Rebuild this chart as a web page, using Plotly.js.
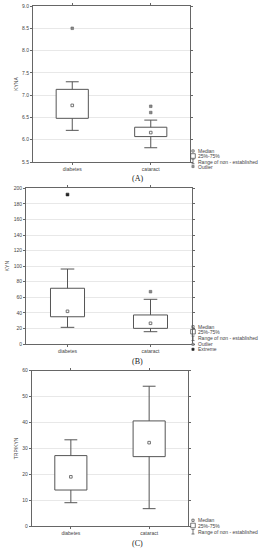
<!DOCTYPE html>
<html>
<head>
<meta charset="utf-8">
<script src="https://cdn.plot.ly/plotly-3.0.1.min.js"></script>
<style>
html,body{margin:0;padding:0;background:#fff;}
#chart{width:274px;height:550px;}
</style>
</head>
<body>
<div id="chart"></div>
<script>
// ---- data ----
const categories = ["diabetes", "cataract"];

// Panel A: KYNA
const kynaMin = [6.21, 5.82];
const kynaQ1 = [6.48, 6.07];
const kynaMedian = [6.77, 6.16];
const kynaQ3 = [7.13, 6.28];
const kynaMax = [7.30, 6.44];
const kynaOutlierCat = ["diabetes", "cataract", "cataract"];
const kynaOutlierVal = [8.5, 6.75, 6.61];

// Panel B: KYN
const kynMin = [21.4, 15.8];
const kynQ1 = [35.0, 20.1];
const kynMedian = [42.0, 26.6];
const kynQ3 = [71.6, 37.3];
const kynMax = [96.3, 57.4];
const kynOutlierCat = ["cataract"];
const kynOutlierVal = [67.2];
const kynExtremeCat = ["diabetes"];
const kynExtremeVal = [192];

// Panel C: TRP/KYN
const ratioMin = [9.0, 6.7];
const ratioQ1 = [13.9, 26.8];
const ratioMedian = [19.0, 32.2];
const ratioQ3 = [27.2, 40.6];
const ratioMax = [33.3, 54.0];

const yTicksA = [5.5, 6.0, 6.5, 7.0, 7.5, 8.0, 8.5, 9.0];
const yTicksB = [0, 20, 40, 60, 80, 100, 120, 140, 160, 180, 200];
const yTicksC = [0, 10, 20, 30, 40, 50, 60];

// ---- styling helpers ----
const LC = "#555";
const FONT = "Liberation Sans, Arial, sans-serif";
const W = 274, H = 550;
const px = x => x / W;
const py = y => 1 - y / H;

function boxTrace(xa, ya, mn, q1, med, q3, mx) {
  return {
    type: "box", xaxis: xa, yaxis: ya, x: categories,
    q1: q1, median: med, q3: q3, lowerfence: mn, upperfence: mx,
    boxpoints: false, width: 0.41, whiskerwidth: 0.4,
    line: {color: LC, width: 1}, fillcolor: "#fff", hoverinfo: "skip", showlegend: false
  };
}
function medTrace(xa, ya, med) {
  return {type: "scatter", mode: "markers", xaxis: xa, yaxis: ya, x: categories, y: med,
    marker: {symbol: "square-open", size: 2.6, color: "#666", line: {width: 0.9, color: "#666"}}, showlegend: false, hoverinfo: "skip"};
}
function outTrace(xa, ya, cats, vals) {
  return {type: "scatter", mode: "markers", xaxis: xa, yaxis: ya, x: cats, y: vals,
    marker: {symbol: "square", size: 2.6, color: "#888", line: {width: 0.6, color: "#666"}}, showlegend: false, hoverinfo: "skip"};
}
function extTrace(xa, ya, cats, vals) {
  return {type: "scatter", mode: "markers", xaxis: xa, yaxis: ya, x: cats, y: vals,
    marker: {symbol: "square", size: 2.8, color: "#222", line: {width: 0.6, color: "#222"}}, showlegend: false, hoverinfo: "skip"};
}

const data = [
  boxTrace("x", "y", kynaMin, kynaQ1, kynaMedian, kynaQ3, kynaMax),
  medTrace("x", "y", kynaMedian),
  outTrace("x", "y", kynaOutlierCat, kynaOutlierVal),
  boxTrace("x2", "y2", kynMin, kynQ1, kynMedian, kynQ3, kynMax),
  medTrace("x2", "y2", kynMedian),
  outTrace("x2", "y2", kynOutlierCat, kynOutlierVal),
  extTrace("x2", "y2", kynExtremeCat, kynExtremeVal),
  boxTrace("x3", "y3", ratioMin, ratioQ1, ratioMedian, ratioQ3, ratioMax),
  medTrace("x3", "y3", ratioMedian),
];

const tickFont = {family: FONT, size: 5, color: "#444"};
function xax(dom, anchor) {
  return {domain: dom, anchor: anchor, type: "category", categoryarray: categories, range: [-0.5, 1.5],
    showline: true, mirror: "ticks", linecolor: "#666", linewidth: 1, ticks: "outside", ticklen: 2, tickcolor: "#666",
    tickfont: tickFont, showgrid: false, zeroline: false, fixedrange: true};
}
function yax(dom, anchor, range, ticks, fmt, title) {
  return {domain: dom, anchor: anchor, range: range, tickvals: ticks, tickformat: fmt,
    showline: true, mirror: "ticks", linecolor: "#666", linewidth: 1, ticks: "outside", ticklen: 2, tickcolor: "#666",
    tickfont: tickFont, showgrid: true, gridcolor: "#e8e8e8", gridwidth: 1, zeroline: false, fixedrange: true,
    title: {text: title, font: {family: FONT, size: 5, color: "#444"}, standoff: 3}};
}

const annotations = [];
const shapes = [];
function legText(x, y, t) {
  annotations.push({xref: "paper", yref: "paper", x: px(x), y: py(y), text: t, showarrow: false,
    xanchor: "left", yanchor: "middle", font: {family: FONT, size: 5, color: "#444"}});
}
function legMedian(x, y) { shapes.push({type: "rect", xref: "paper", yref: "paper", x0: px(x - 1.1), x1: px(x + 1.1), y0: py(y + 1.1), y1: py(y - 1.1), line: {color: LC, width: 0.8}}); }
function legBox(x, y) { shapes.push({type: "rect", xref: "paper", yref: "paper", x0: px(x - 2.3), x1: px(x + 2.3), y0: py(y + 2.3), y1: py(y - 2.3), line: {color: LC, width: 0.8}}); }
function legRange(x, y) {
  shapes.push({type: "line", xref: "paper", yref: "paper", x0: px(x), x1: px(x), y0: py(y + 2.3), y1: py(y - 2.3), line: {color: LC, width: 0.8}});
  shapes.push({type: "line", xref: "paper", yref: "paper", x0: px(x - 1.5), x1: px(x + 1.5), y0: py(y + 2.3), y1: py(y + 2.3), line: {color: LC, width: 0.8}});
  shapes.push({type: "line", xref: "paper", yref: "paper", x0: px(x - 1.5), x1: px(x + 1.5), y0: py(y - 2.3), y1: py(y - 2.3), line: {color: LC, width: 0.8}});
}
function legOutlier(x, y) { shapes.push({type: "rect", xref: "paper", yref: "paper", x0: px(x - 1.1), x1: px(x + 1.1), y0: py(y + 1.1), y1: py(y - 1.1), line: {color: "#666", width: 0.6}, fillcolor: "#999"}); }
function legExtreme(x, y) { shapes.push({type: "rect", xref: "paper", yref: "paper", x0: px(x - 1.1), x1: px(x + 1.1), y0: py(y + 1.1), y1: py(y - 1.1), line: {color: "#222", width: 0.6}, fillcolor: "#222"}); }

const lx = 193, tx = 196;
// legend A
legMedian(lx, 151); legText(tx, 151, "Median");
legBox(lx, 156); legText(tx, 156, "25%-75%");
legRange(lx, 161.5); legText(tx, 161.5, "Range of non - established");
legOutlier(lx, 166.5); legText(tx, 166.5, "Outlier");
// legend B
legMedian(lx, 326.7); legText(tx, 326.7, "Median");
legBox(lx, 331.7); legText(tx, 331.7, "25%-75%");
legRange(lx, 338.3); legText(tx, 338.3, "Range of non - established");
legOutlier(lx, 344.3); legText(tx, 344.3, "Outlier");
legExtreme(lx, 349.3); legText(tx, 349.3, "Extreme");
// legend C
legMedian(lx, 520.3); legText(tx, 520.3, "Median");
legBox(lx, 525.5); legText(tx, 525.5, "25%-75%");
legRange(lx, 531.7); legText(tx, 531.7, "Range of non - established");

// panel labels
[["(A)", 178], ["(B)", 361.5], ["(C)", 543]].forEach(([t, y]) => {
  annotations.push({xref: "paper", yref: "paper", x: px(137), y: py(y), text: t, showarrow: false,
    xanchor: "center", yanchor: "middle", font: {family: "Liberation Serif, serif", size: 8, color: "#222"}});
});

const layout = {
  width: W, height: H, margin: {l: 0, r: 0, t: 0, b: 0},
  paper_bgcolor: "#fff", plot_bgcolor: "#fff", showlegend: false,
  xaxis: xax([px(33), px(190)], "y"),
  yaxis: yax([py(162), py(6)], "x", [5.5, 9.0], yTicksA, ".1f", "KYNA"),
  xaxis2: xax([px(26), px(192)], "y2"),
  yaxis2: yax([py(344), py(188.3)], "x2", [0, 200], yTicksB, "d", "KYN"),
  xaxis3: xax([px(31.7), px(188.3)], "y3"),
  yaxis3: yax([py(526), py(370.7)], "x3", [0, 60], yTicksC, "d", "TRP/KYN"),
  annotations: annotations, shapes: shapes
};

// The reference marks the median with a small square only, so drop the
// full-width median stroke from each drawn box outline.
function hideMedianLines() {
  document.querySelectorAll(".boxlayer path.box").forEach(p => {
    const d = p.getAttribute("d");
    if (!d) return;
    const parts = d.split("M").filter(s => s.length);
    const boxPart = parts.find(s => s.indexOf("Z") >= 0 || (s.match(/[VH]/g) || []).length >= 3);
    if (!boxPart) return;
    const nums = boxPart.match(/-?[\d.]+(e-?\d+)?/g).map(Number);
    // box x extent: first x and the H value
    const hMatch = boxPart.match(/H(-?[\d.]+)/);
    const bx0 = nums[0], bx1 = hMatch ? Number(hMatch[1]) : null;
    const boxW = bx1 !== null ? Math.abs(bx1 - bx0) : null;
    const kept = parts.filter(s => {
      const m = s.match(/^(-?[\d.]+),(-?[\d.]+)H(-?[\d.]+)$/);
      if (!m || boxW === null) return true;
      const w = Math.abs(Number(m[3]) - Number(m[1]));
      return Math.abs(w - boxW) > 0.5;
    });
    p.setAttribute("d", kept.map(s => "M" + s).join(""));
  });
}

Plotly.newPlot("chart", data, layout, {staticPlot: true, displayModeBar: false}).then(hideMedianLines);
</script>
</body>
</html>
